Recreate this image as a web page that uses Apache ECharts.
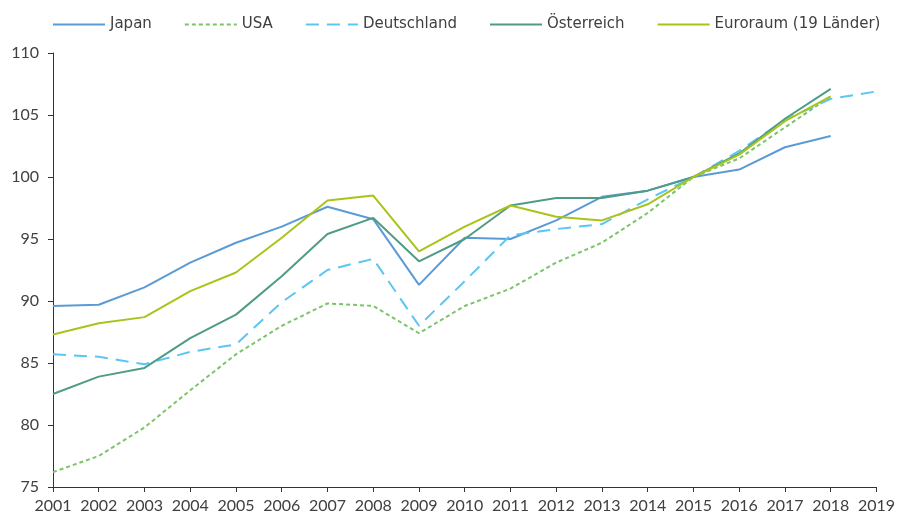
<!DOCTYPE html>
<html>
<head>
<meta charset="utf-8">
<script src="https://cdn.jsdelivr.net/npm/echarts@6/dist/echarts.min.js"></script>
<style>
  html, body { margin: 0; padding: 0; background: #fff; }
  #main { width: 898px; height: 517px; }
</style>
</head>
<body>
<div id="main"></div>
<script>
var years = ['2001','2002','2003','2004','2005','2006','2007','2008','2009','2010',
             '2011','2012','2013','2014','2015','2016','2017','2018','2019'];

var japan       = [89.6, 89.7, 91.1, 93.1, 94.7, 96.0, 97.6, 96.6, 91.3, 95.1, 95.0, 96.5, 98.4, 98.9, 100, 100.6, 102.4, 103.3, null];
var usa         = [76.2, 77.5, 79.8, 82.8, 85.7, 88.0, 89.8, 89.6, 87.4, 89.6, 91.0, 93.1, 94.7, 97.1, 100, 101.5, 104.0, 106.5, null];
var deutschland = [85.7, 85.5, 84.9, 85.9, 86.5, 89.9, 92.5, 93.4, 88.0, 91.6, 95.3, 95.8, 96.2, 98.2, 100, 102.1, 104.6, 106.3, 106.9];
var oesterreich = [82.5, 83.9, 84.6, 87.0, 88.9, 92.0, 95.4, 96.7, 93.2, 95.0, 97.7, 98.3, 98.3, 98.9, 100, 101.9, 104.7, 107.1, null];
var euroraum    = [87.3, 88.2, 88.7, 90.8, 92.3, 95.1, 98.1, 98.5, 94.0, 96.0, 97.7, 96.8, 96.5, 97.8, 100, 101.8, 104.5, 106.5, null];

var myChart = echarts.init(document.getElementById('main'));

var axisFont = 'Lato, "Noto Sans", sans-serif';
var legendFont = '"DejaVu Sans", sans-serif';
var textColor = '#404040';

function lineSeries(name, data, color, dash) {
    return {
        name: name,
        type: 'line',
        data: data,
        symbol: 'none',
        itemStyle: { color: color },
        lineStyle: { color: color, width: 2, type: dash || 'solid' }
    };
}

var option = {
    animation: false,
    legend: {
        top: 12,
        left: 47,
        itemWidth: 52,
        itemHeight: 18,
        itemGap: 32,
        itemStyle: { opacity: 0 },
        textStyle: { fontSize: 15, color: textColor, fontFamily: legendFont },
        data: ['Japan', 'USA', 'Deutschland', 'Österreich', 'Euroraum (19 Länder)']
    },
    grid: { left: 53, right: 19, top: 53, bottom: 30 },
    xAxis: {
        type: 'category',
        data: years,
        boundaryGap: false,
        axisLine: { lineStyle: { color: '#333', width: 1 } },
        axisTick: { show: true, length: 5, alignWithLabel: true, lineStyle: { color: '#333' } },
        axisLabel: { fontSize: 16, color: textColor, margin: 11, interval: 0, fontFamily: axisFont },
        splitLine: { show: false }
    },
    yAxis: {
        type: 'value',
        min: 75,
        max: 110,
        interval: 5,
        axisLine: { show: true, lineStyle: { color: '#333', width: 1 } },
        axisTick: { show: true, length: 5, lineStyle: { color: '#333' } },
        axisLabel: { fontSize: 16, color: textColor, margin: 14, fontFamily: axisFont },
        splitLine: { show: false }
    },
    series: [
        lineSeries('Japan', japan, '#5b9bd5'),
        lineSeries('USA', usa, '#7cc46a', [4, 3]),
        lineSeries('Deutschland', deutschland, '#5cc6f2', [13, 8]),
        lineSeries('Österreich', oesterreich, '#4f9c86'),
        lineSeries('Euroraum (19 Länder)', euroraum, '#a8c41a')
    ]
};

myChart.setOption(option);
</script>
</body>
</html>
